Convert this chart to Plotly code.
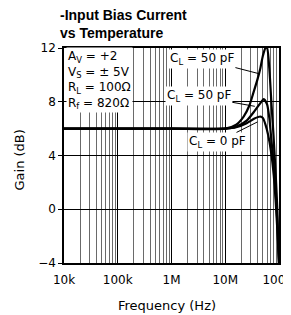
import plotly.graph_objects as go

# ---- data ----
freq_cl0 = [1e4, 1e5, 1e6, 1e7, 1.6e7, 2.5e7, 3.5e7, 4.5e7, 5.0e7, 5.6e7, 6.3e7, 7.1e7, 8.0e7, 8.7e7, 9.3e7, 1e8]
gain_cl0 = [6.0, 6.0, 6.0, 6.0, 6.1, 6.4, 6.75, 6.9, 6.8, 6.3, 5.5, 4.3, 2.5, 0.5, -1.5, -4.0]

freq_cl50a = [1e4, 1e5, 1e6, 1e7, 1.6e7, 2.5e7, 3.5e7, 4.5e7, 5.2e7, 6.0e7, 6.6e7, 7.2e7, 7.9e7, 8.7e7, 9.3e7, 1e8]
gain_cl50a = [6.0, 6.0, 6.0, 6.0, 6.15, 6.6, 7.3, 7.9, 8.2, 7.8, 6.8, 5.2, 3.5, 1.2, -1.0, -4.0]

freq_cl50b = [1e4, 1e5, 1e6, 1e7, 1.6e7, 2.2e7, 2.8e7, 3.3e7, 4.0e7, 4.5e7, 5.0e7, 5.6e7, 6.0e7, 6.6e7, 7.2e7, 7.9e7, 8.7e7, 9.3e7, 1e8]
gain_cl50b = [6.0, 6.0, 6.0, 6.0, 6.3, 6.9, 7.7, 8.6, 9.7, 10.5, 11.4, 12.0, 12.0, 10.5, 8.0, 5.5, 2.5, 0.0, -4.0]

y_ticks = [12, 8, 4, 0, -4]
y_tick_text = ["12", "8", "4", "0", "\u22124"]
x_ticks = [1e4, 1e5, 1e6, 1e7, 1e8]
x_tick_text = ["10k", "100k", "1M", "10M", "100M"]
minor_grid = [m * d for d in [1e4, 1e5, 1e6, 1e7] for m in range(2, 10)]

title_text = "<b>-Input Bias Current<br>vs Temperature</b>"
cond_text = "A<sub>V</sub> = +2<br>V<sub>S</sub> = \u00b1 5V<br>R<sub>L</sub> = 100\u03a9<br>R<sub>f</sub> = 820\u03a9"

FONT = "DejaVu Sans"

fig = go.Figure()
for fx, gy in [(freq_cl0, gain_cl0), (freq_cl50a, gain_cl50a), (freq_cl50b, gain_cl50b)]:
    fig.add_trace(go.Scatter(x=fx, y=gy, mode="lines",
                             line=dict(color="black", width=2.2, shape="spline", smoothing=0.6),
                             showlegend=False, hoverinfo="skip"))

# page body has an 8px margin, so the figure is 8px smaller and offset accordingly
fig.update_layout(
    width=283, height=307,
    margin=dict(l=56, r=12, t=40, b=52),
    paper_bgcolor="white", plot_bgcolor="white",
    font=dict(family=FONT, size=12, color="black"),
)

fig.update_xaxes(
    type="log", range=[4, 8], automargin=False,
    tickvals=x_ticks, ticktext=x_tick_text, ticks="", ticklen=0, ticklabelstandoff=5,
    ticklabeloverflow="allow",
    showgrid=True, gridcolor="black", gridwidth=1,
    minor=dict(showgrid=True, gridcolor="#6a6a6a", gridwidth=1, ticks="", tickvals=minor_grid),
    showline=True, linecolor="black", linewidth=1.5, mirror=True,
    zeroline=False,
    tickfont=dict(family=FONT, size=12),
)
fig.update_yaxes(
    range=[-4, 12], tickvals=y_ticks, ticktext=y_tick_text, automargin=False,
    ticks="outside", ticklen=4, tickcolor="black",
    showgrid=True, gridcolor="black", gridwidth=1,
    showline=True, linecolor="black", linewidth=1.5, mirror=True,
    zeroline=False,
    tickfont=dict(family=FONT, size=12),
)

# axis titles
fig.add_annotation(xref="paper", yref="paper", x=0.48, y=0, xanchor="center", yanchor="middle",
                   yshift=-42, text="Frequency (Hz)", showarrow=False,
                   font=dict(family=FONT, size=13, color="black"))
fig.add_annotation(xref="paper", yref="paper", x=0, y=0.5, xanchor="center", yanchor="middle",
                   xshift=-45, yshift=-5, text="Gain (dB)", textangle=-90, showarrow=False,
                   font=dict(family=FONT, size=13, color="black"))

# title
fig.add_annotation(xref="paper", yref="paper", x=0, y=1, xanchor="left", yanchor="bottom",
                   xshift=-6, yshift=5, text=title_text, showarrow=False, align="left",
                   font=dict(family="Liberation Sans", size=14, color="black"))

fig.add_annotation(xref="paper", yref="paper", x=0, y=1, xanchor="left", yanchor="top",
                   xshift=2, yshift=1, text=cond_text, showarrow=False, align="left",
                   bgcolor="white", borderpad=1, font=dict(family=FONT, size=12, color="black"))

labels = [
    ("C<sub>L</sub> = 50 pF", 7.645, 10.07, -58, -15),
    ("C<sub>L</sub> = 50 pF", 7.55, 7.66, -56, -10),
    ("C<sub>L</sub> = 0 pF", 7.60, 6.5, -40, 20),
]
for txt, lx, ly, axp, ayp in labels:
    fig.add_annotation(x=lx, y=ly, xref="x", yref="y", text=txt, showarrow=True,
                       arrowhead=0, arrowwidth=1, arrowcolor="black", ax=axp, ay=ayp,
                       bgcolor="white", borderpad=1, font=dict(family=FONT, size=12, color="black"))

fig.write_html("out.html")
